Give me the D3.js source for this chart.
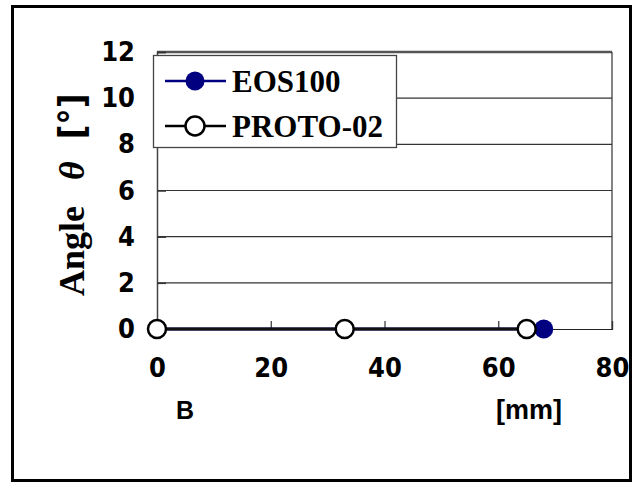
<!DOCTYPE html>
<html><head><meta charset="utf-8">
<script src="https://cdn.jsdelivr.net/npm/d3@7"></script>
<style>body{margin:0;background:#fff}svg{display:block}</style>
</head><body>
<script>
const seriesNames = ["EOS100", "PROTO-02"];
const eosX = [0, 33, 68];
const eosY = [0, 0, 0];
const protoX = [0, 33, 65];
const protoY = [0, 0, 0];
const xTicks = [0, 20, 40, 60, 80];
const yTicks = [0, 2, 4, 6, 8, 10, 12];

const W = 635, H = 482;
const sansNarrow = "'Liberation Sans Narrow', 'DejaVu Sans Condensed', 'Liberation Sans', Arial, sans-serif";
const svg = d3.select("body").append("svg").attr("width", W).attr("height", H);
svg.append("rect").attr("width", W).attr("height", H).attr("fill", "#fff");
// outer frame
svg.append("rect").attr("x", 12.5).attr("y", 6.5).attr("width", 618).attr("height", 474)
  .attr("fill", "none").attr("stroke", "#000").attr("stroke-width", 3);

const L = 157, R = 612, T = 52, B = 329;
const x = d3.scaleLinear().domain([0, 80]).range([L, R]);
const y = d3.scaleLinear().domain([0, 12]).range([B, T]);

// gridlines
svg.append("g").selectAll("line").data(yTicks.filter(d => d > 0 && d < 12)).join("line")
  .attr("x1", L).attr("x2", R).attr("y1", d => y(d)).attr("y2", d => y(d))
  .attr("stroke", "#333").attr("stroke-width", 1.2);
// plot border
svg.append("line").attr("x1", L).attr("x2", R).attr("y1", T).attr("y2", T).attr("stroke", "#555").attr("stroke-width", 2.5);
svg.append("line").attr("x1", R).attr("x2", R).attr("y1", T).attr("y2", B).attr("stroke", "#333").attr("stroke-width", 1.2);

// axes
const yAxis = d3.axisLeft(y).tickValues(yTicks).tickSize(-9).tickPadding(22);
const gy = svg.append("g").attr("transform", `translate(${L},0)`).call(yAxis);
gy.select(".domain").attr("stroke", "#444").attr("stroke-width", 1.5);
gy.selectAll(".tick line").attr("stroke", "#333").attr("stroke-width", 1.5);
gy.selectAll("text").attr("font-family", sansNarrow).attr("font-weight", "bold")
  .attr("font-size", 27).attr("fill", "#000");

const xAxis = d3.axisBottom(x).tickValues(xTicks).tickSize(-8).tickPadding(29);
const gx = svg.append("g").attr("transform", `translate(0,${B})`).call(xAxis);
gx.select(".domain").attr("stroke", "#222").attr("stroke-width", 1.2);
gx.selectAll(".tick line").attr("stroke", "#333").attr("stroke-width", 1.2);
gx.selectAll("text").attr("font-family", sansNarrow).attr("font-weight", "bold")
  .attr("font-size", 27).attr("fill", "#000");

// series
const eos = eosX.map((v, i) => [v, eosY[i]]);
const proto = protoX.map((v, i) => [v, protoY[i]]);
const line = d3.line().x(d => x(d[0])).y(d => y(d[1]));
svg.append("path").datum(eos).attr("d", line).attr("fill", "none").attr("stroke", "#000080").attr("stroke-width", 3);
svg.append("g").selectAll("circle").data(eos).join("circle")
  .attr("cx", d => x(d[0])).attr("cy", d => y(d[1])).attr("r", 9.5).attr("fill", "#000080");
svg.append("path").datum(proto).attr("d", line).attr("fill", "none").attr("stroke", "#111").attr("stroke-width", 3);
svg.append("g").selectAll("circle").data(proto).join("circle")
  .attr("cx", d => x(d[0])).attr("cy", d => y(d[1])).attr("r", 9).attr("fill", "#fff")
  .attr("stroke", "#000").attr("stroke-width", 2.5);

// legend
const lg = svg.append("g");
lg.append("rect").attr("x", 153.5).attr("y", 55.5).attr("width", 243).attr("height", 92)
  .attr("fill", "#fff").attr("stroke", "#444").attr("stroke-width", 1.3);
const rows = [
  {name: seriesNames[0], y: 81, stroke: "#000080", fill: "#000080", ms: "none"},
  {name: seriesNames[1], y: 126, stroke: "#000", fill: "#fff", ms: "#000"}
];
rows.forEach(r => {
  lg.append("line").attr("x1", 165).attr("x2", 226).attr("y1", r.y).attr("y2", r.y)
    .attr("stroke", r.stroke).attr("stroke-width", 2.5);
  lg.append("circle").attr("cx", 195).attr("cy", r.y).attr("r", 9.5).attr("fill", r.fill)
    .attr("stroke", r.ms).attr("stroke-width", 2.5);
  lg.append("text").attr("x", 232).attr("y", r.y + 11).text(r.name)
    .attr("font-family", "Liberation Serif, Times New Roman, serif").attr("font-weight", "bold")
    .attr("font-size", 31).attr("fill", "#000");
});

// y title
const yt = svg.append("text").attr("transform", "translate(84,296) rotate(-90)")
  .attr("font-weight", "bold").attr("fill", "#000");
yt.append("tspan").text("Angle").attr("font-family", "Liberation Serif, Times New Roman, serif").attr("font-size", 36);
yt.append("tspan").text("θ").attr("dx", 26).attr("font-family", "Liberation Serif, Times New Roman, serif")
  .attr("font-style", "italic").attr("font-size", 36);
yt.append("tspan").text("[°]").attr("dx", 22).attr("font-family", sansNarrow).attr("font-size", 36);

// x labels
svg.append("text").attr("x", 185).attr("y", 419).attr("text-anchor", "middle").text("B")
  .attr("font-family", "Liberation Sans, Arial, sans-serif").attr("font-weight", "bold").attr("font-size", 25);
svg.append("text").attr("x", 529).attr("y", 419).attr("text-anchor", "middle").text("[mm]")
  .attr("font-family", "Liberation Sans, Arial, sans-serif").attr("font-weight", "bold").attr("font-size", 27);
</script>
</body></html>
